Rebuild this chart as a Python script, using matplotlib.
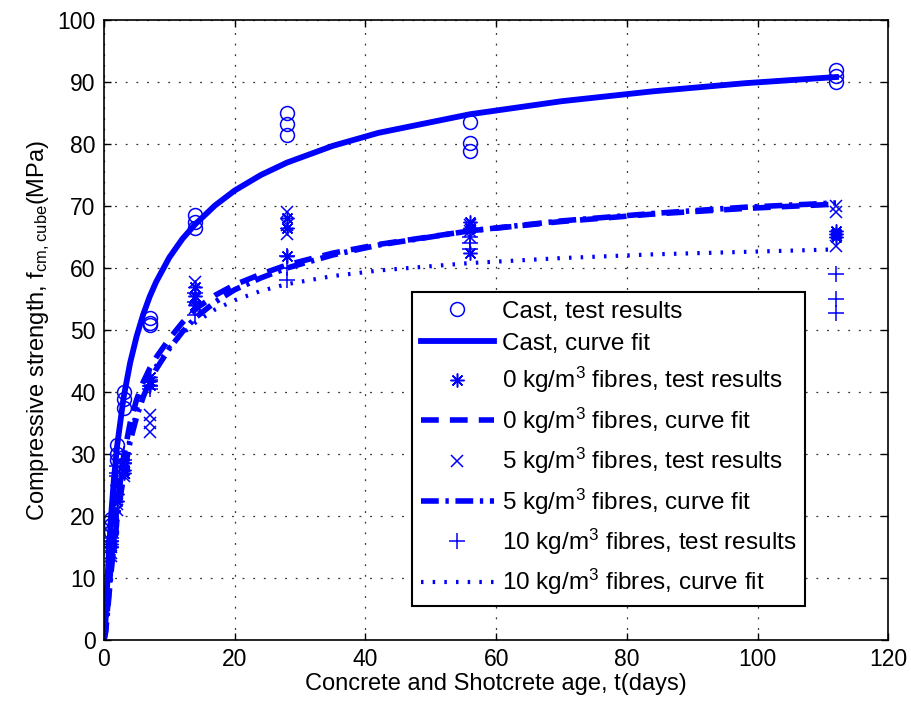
import numpy as np
import matplotlib
matplotlib.use('Agg')
import matplotlib.pyplot as plt

plt.rcParams['font.family'] = ['Liberation Sans', 'DejaVu Sans']
plt.rcParams['mathtext.default'] = 'regular'

# curve fits
t_fit = [0, 0.25, 0.5, 1, 1.5, 2, 3, 4, 5, 6, 7, 8, 10, 12, 14, 17, 20, 24, 28,
         35, 42, 56, 70, 84, 98, 112]
cast_fit = [0, 3.3, 9.1, 18.7, 25.7, 31.2, 39.1, 44.7, 49.0, 52.5, 55.4, 57.8,
            61.7, 64.7, 67.1, 70.1, 72.5, 75.0, 77.0, 79.7, 81.8, 84.8, 86.9,
            88.5, 89.8, 90.8]
f0_fit = [0, 1.5, 4.5, 11.0, 16.5, 21.5, 29.5, 35.0, 38.8, 41.6, 43.8, 45.6,
          48.6, 51.2, 53.4, 55.6, 57.3, 59.0, 60.5, 62.4, 63.8, 66.0, 67.5,
          68.7, 69.6, 70.3]
f5_fit = [0, 1.2, 4.0, 10.0, 15.0, 19.5, 26.5, 32.0, 36.0, 39.2, 41.7, 43.7,
          47.0, 49.7, 52.0, 54.5, 56.5, 58.4, 60.0, 62.1, 63.7, 66.0, 67.6,
          68.8, 69.8, 70.5]
f10_fit = [0, 1.5, 4.5, 11.0, 16.0, 20.5, 27.5, 33.0, 37.0, 40.0, 42.4, 44.3,
           47.2, 49.4, 51.2, 53.3, 54.8, 56.3, 57.4, 58.7, 59.6, 60.8, 61.6,
           62.2, 62.6, 63.0]

# test results, three specimens per age
t_test = [1, 2, 3, 7, 14, 28, 56, 112]
cast_test = [[19.5, 18.5, 17.5], [31.5, 30.0, 29.0], [40.0, 38.8, 37.5],
             [52.0, 51.2, 50.8], [68.5, 67.5, 66.5], [85.0, 83.3, 81.5],
             [83.5, 80.2, 78.8], [92.0, 91.0, 90.0]]
f0_test = [[16.0, 15.5, 15.0], [25.0, 23.5, 22.5], [28.5, 27.5, 27.0],
           [42.5, 41.8, 41.2], [57.0, 55.5, 54.0], [68.0, 66.5, 62.0],
           [67.5, 66.5, 62.5], [66.0, 65.5, 65.0]]
f5_test = [[15.0, 14.0, 13.5], [23.0, 22.0, 21.0], [28.0, 27.0, 26.5],
           [36.3, 35.0, 33.6], [57.8, 55.0, 53.5], [69.0, 67.0, 65.5],
           [67.0, 66.0, 65.0], [70.0, 69.0, 63.5]]
f10_test = [[16.5, 16.0, 15.0], [28.0, 27.0, 26.5], [30.0, 29.0, 28.5],
            [42.0, 41.0, 40.5], [56.0, 54.5, 52.5], [62.0, 60.0, 58.0],
            [65.0, 64.0, 63.0], [59.0, 55.0, 52.7]]


def flat(ages, groups):
    xs, ys = [], []
    for a, g in zip(ages, groups):
        for v in g:
            xs.append(a)
            ys.append(v)
    return xs, ys


blue = (0, 0, 1)
fig = plt.figure(figsize=(9.12, 7.02), dpi=100)
ax = fig.add_axes([0.114, 0.0883, 0.860, 0.8832])

x, y = flat(t_test, cast_test)
ax.plot(x, y, 'o', color=blue, mfc='none', ms=10, mew=1.1, label='Cast, test results')
ax.plot(t_fit, cast_fit, '-', color=blue, lw=4.2, label='Cast, curve fit')
x, y = flat(t_test, f0_test)
ax.plot(x, y, marker=(8, 2, 0), ls='none', color=blue, ms=10, mew=1.1,
        label='0 kg/m$^3$ fibres, test results')
ax.plot(t_fit, f0_fit, '--', color=blue, lw=4, dashes=(3.2, 2), label='0 kg/m$^3$ fibres, curve fit')
x, y = flat(t_test, f5_test)
ax.plot(x, y, 'x', color=blue, ms=9, mew=1.1, label='5 kg/m$^3$ fibres, test results')
ax.plot(t_fit, f5_fit, '-.', color=blue, lw=4, dashes=(3.2, 1.2, 0.6, 1.2), label='5 kg/m$^3$ fibres, curve fit')
x, y = flat(t_test, f10_test)
ax.plot(x, y, '+', color=blue, ms=12, mew=1.1, label='10 kg/m$^3$ fibres, test results')
ax.plot(t_fit, f10_fit, ':', color=blue, lw=3, dashes=(0.6, 2.2), label='10 kg/m$^3$ fibres, curve fit')

ax.set_xlim(0, 120)
ax.set_ylim(0, 100)
ax.set_xticks(np.arange(0, 121, 20))
ax.set_yticks(np.arange(0, 101, 10))
ax.grid(True, linestyle=(0, (1.5, 7)), color='#333333', lw=0.9)
ax.tick_params(direction='in', top=True, right=True, labelsize=16.5, length=5, width=1, pad=6)
for s in ax.spines.values():
    s.set_linewidth(1.2)

ax.set_xlabel('Concrete and Shotcrete age, t(days)', fontsize=17, labelpad=1)
ax.set_ylabel('Compressive strength, f$_{cm,cube}$(MPa)', fontsize=17, labelpad=4)

leg = ax.legend(loc='lower left', bbox_to_anchor=(0.393, 0.055), fontsize=17.5,
                fancybox=False, framealpha=1, edgecolor='black', handlelength=3.0,
                handletextpad=0.35, labelspacing=0.42, borderpad=0.35, numpoints=1,
                borderaxespad=0)
leg.get_frame().set_linewidth(1.5)

fig.savefig('out.png', dpi=100)
